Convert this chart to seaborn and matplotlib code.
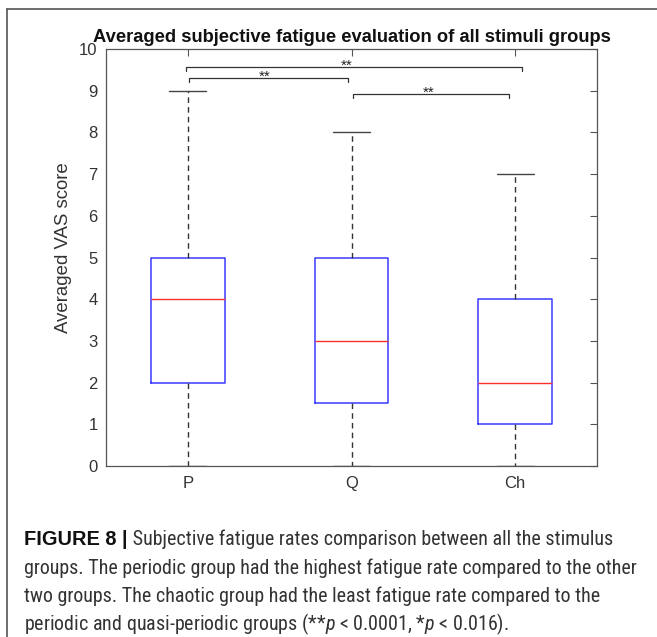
import numpy as np
import pandas as pd
import seaborn as sns
import matplotlib
matplotlib.use("Agg")
import matplotlib.pyplot as plt
from matplotlib import font_manager
from matplotlib.lines import Line2D

# ---- data (five-number summaries) ----
groups = ["P", "Q", "Ch"]
p_values = [0, 2, 4, 5, 9]
q_values = [0, 1.5, 3, 5, 8]
ch_values = [0, 1, 2, 4, 7]
y_ticks = [0, 1, 2, 3, 4, 5, 6, 7, 8, 9, 10]
sig_pairs = [(0, 2), (0, 1), (1, 2)]
sig_x0 = [-0.01, 0.01, 1.01]
sig_x1 = [2.04, 0.98, 1.96]
sig_heights = [9.57, 9.30, 8.92]
sig_labels = ["**", "**", "**"]

title = "Averaged subjective fatigue evaluation of all stimuli groups"
ylabel = "Averaged VAS score"
caption_bold = "FIGURE 8 |"
caption_lines = [
    " Subjective fatigue rates comparison between all the stimulus",
    "groups. The periodic group had the highest fatigue rate compared to the other",
    "two groups. The chaotic group had the least fatigue rate compared to the",
    "periodic and quasi-periodic groups (**$p$ < 0.0001, *$p$ < 0.016).",
]

df = pd.DataFrame({
    "group": [groups[0]] * len(p_values) + [groups[1]] * len(q_values) + [groups[2]] * len(ch_values),
    "score": p_values + q_values + ch_values,
})

sns.set_style("white")
names = {f.name for f in font_manager.fontManager.ttflist}
main_font = "Liberation Sans"
cap_font = "Liberation Sans"
for cand in ["Liberation Sans Narrow", "Roboto Condensed", "Open Sans Condensed", "Roboto"]:
    if cand in names:
        cap_font = cand
        break
plt.rcParams["font.family"] = [main_font, "DejaVu Sans"]
plt.rcParams["mathtext.fontset"] = "custom"
plt.rcParams["mathtext.it"] = cap_font + ":italic"
plt.rcParams["mathtext.rm"] = cap_font

W, H = 657, 637
fig = plt.figure(figsize=(W / 100, H / 100), dpi=100)
ax = fig.add_axes([106 / W, 1 - 466 / H, 491 / W, 417 / H])

sns.boxplot(
    data=df, x="group", y="score", order=groups, ax=ax,
    width=0.45, whis=1.5, fill=False, showfliers=False,
    boxprops=dict(color="#3a3aff", linewidth=1.1),
    medianprops=dict(color="#ff3030", linewidth=1.0),
    whiskerprops=dict(color="#333333", linewidth=1.0, linestyle=(0, (4, 3))),
    capprops=dict(color="#444444", linewidth=1.0),
)

ax.set_xlim(-0.5, 2.5)
ax.set_ylim(0, 10)
ax.set_yticks(y_ticks)
ax.set_xlabel("")
ax.set_ylabel(ylabel, fontsize=13.4, color="#333333")
ax.yaxis.set_label_coords(-0.069, 0.523)
ax.tick_params(direction="in", length=5, width=0.8, color="#555555",
               top=True, right=True, labelsize=12, labelcolor="#333333")
ax.tick_params(axis="y", pad=6)
ax.tick_params(axis="x", pad=7)
for s in ax.spines.values():
    s.set_color("#555555")
    s.set_linewidth(0.9)
ax.set_title(title, fontsize=13.2, fontweight="bold", color="#111111", pad=5)

# significance brackets
for (a, b), x0, x1, h, lab in zip(sig_pairs, sig_x0, sig_x1, sig_heights, sig_labels):
    ax.plot([x0, x0, x1, x1], [h - 0.1, h, h, h - 0.1], color="#333333", lw=0.9)
    ax.text((a + b) / 2 - 0.03, h - 0.06, lab, ha="center", va="baseline",
            fontsize=11, color="#222222")

# outer frame (top and left only)
fig.add_artist(Line2D([7 / W, 1], [1 - 9 / H, 1 - 9 / H], transform=fig.transFigure, color="#555555", lw=1.2))
fig.add_artist(Line2D([7 / W, 7 / W], [1 - 9 / H, 0], transform=fig.transFigure, color="#555555", lw=1.2))

# caption
cap_size = 13.5
base_y = [545, 574, 602, 630]
t1 = fig.text(24 / W, 1 - base_y[0] / H, caption_bold, fontsize=cap_size, fontweight="bold",
              family=[main_font], color="#111111", va="baseline")
ta = ax.annotate(caption_lines[0], xy=(1, 0), xycoords=t1, ha="left", va="bottom",
                 fontsize=cap_size, family=[cap_font], color="#333333", annotation_clip=False)
others = []
for i in range(1, 4):
    others.append(fig.text(24 / W, 1 - base_y[i] / H, caption_lines[i], fontsize=cap_size,
                           family=[cap_font], color="#333333", va="baseline"))

# fit the longest caption line to the reference width
fig.canvas.draw()
r = fig.canvas.get_renderer()
w = others[0].get_window_extent(r).width
scale = 614.0 / w
for t in [t1, ta] + others:
    t.set_fontsize(cap_size * scale)

fig.savefig("out.png", dpi=100)
